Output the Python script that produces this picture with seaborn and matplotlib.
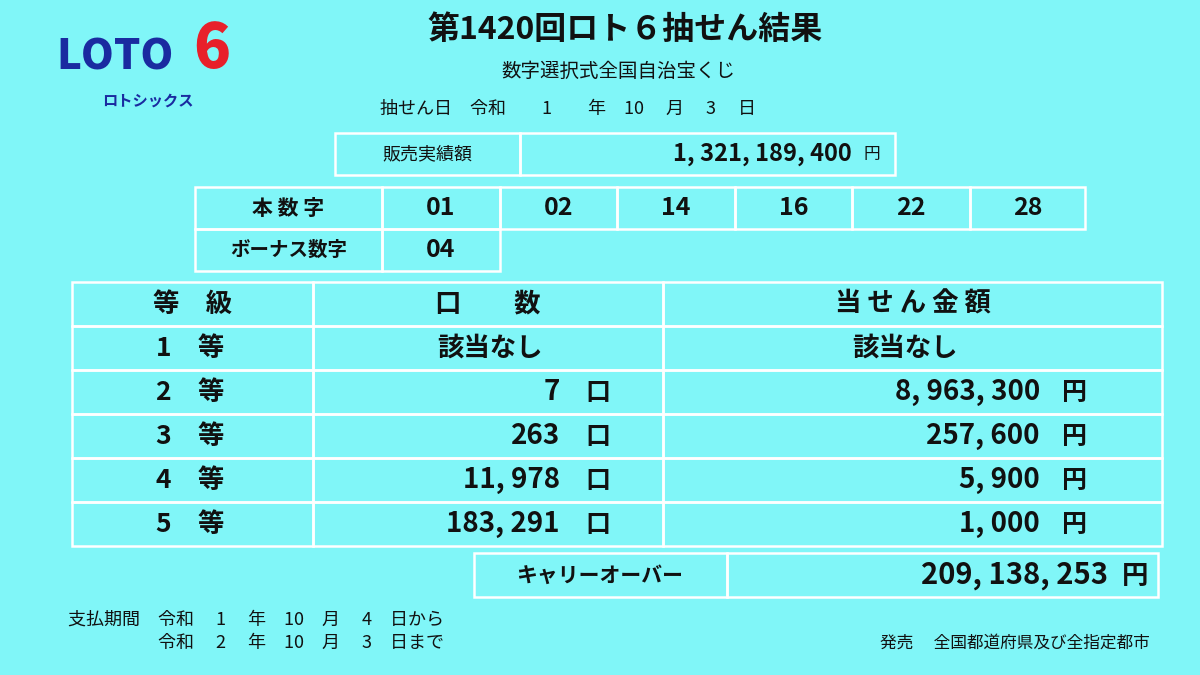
import matplotlib
matplotlib.use("Agg")
import matplotlib.pyplot as plt
import seaborn as sns
from matplotlib.patches import Rectangle

sns.set_theme(style="white")
FONT = "Noto Sans CJK JP"

title = "第1420回ロト６抽せん結果"
subtitle = "数字選択式全国自治宝くじ"
draw_date = "抽せん日　令和　　1　　年　10　 月　 3　 日"
sales_label = "販売実績額"
sales_value = "1, 321, 189, 400"
main_numbers = ["01", "02", "14", "16", "22", "28"]
bonus_number = "04"
grades = ["1　等", "2　等", "3　等", "4　等", "5　等"]
winners = ["該当なし", "7", "263", "11, 978", "183, 291"]
prizes = ["該当なし", "8, 963, 300", "257, 600", "5, 900", "1, 000"]
headers = ["等　級", "口　　数", "当 せ ん 金 額"]
carry_label = "キャリーオーバー"
carry_value = "209, 138, 253"
pay_lines = ["支払期間　令和　 1　 年　10　月　 4　日から", "　　　　　令和　 2　 年　10　月　 3　日まで"]
seller = "発売　 全国都道府県及び全指定都市"

BG = "#80F6F8"
LC = "white"
TC = "#111111"

fig = plt.figure(figsize=(12, 6.75), dpi=100, facecolor=BG)
ax = fig.add_axes([0, 0, 1, 1])
ax.set_xlim(0, 1200); ax.set_ylim(675, 0); ax.axis("off")
ax.set_facecolor(BG)

def t(x, y, s, size=18, ha="center", weight="bold", color=TC, **kw):
    ax.text(x, y, s, fontsize=size, ha=ha, va="center", fontfamily=FONT,
            fontweight=weight, color=color, **kw)

def box(x0, y0, x1, y1):
    ax.add_patch(Rectangle((x0, y0), x1 - x0, y1 - y0, fill=False, ec=LC, lw=1.8))

# logo
t(115, 58, "LOTO", size=30, color="#1A2BA0", style="italic", weight="heavy")
t(212, 50, "6", size=44, color="#E8202A", weight="heavy")
t(148, 101, "ロトシックス", size=11, color="#1A2BA0")

t(625, 30, title, size=23)
t(618, 71, subtitle, size=14, weight="normal")
t(380, 109, draw_date, size=13, ha="left", weight="normal")

# sales
box(335, 133, 520, 175); box(520, 133, 895, 175)
t(427, 154, sales_label, size=13, weight="normal")
t(852, 154, sales_value, size=17, ha="right")
t(872, 155, "円", size=12, weight="normal")

# numbers
cols = [195, 382, 500, 617, 735, 852, 970, 1085]
box(cols[0], 187, cols[1], 229)
t((cols[0] + cols[1]) / 2, 208, "本 数 字", size=15)
for i, n in enumerate(main_numbers):
    box(cols[i + 1], 187, cols[i + 2], 229)
    t((cols[i + 1] + cols[i + 2]) / 2, 208, n, size=18)
box(cols[0], 229, cols[1], 271); box(cols[1], 229, cols[2], 271)
t((cols[0] + cols[1]) / 2, 250, "ボーナス数字", size=14)
t((cols[1] + cols[2]) / 2, 250, bonus_number, size=18)

# main table
xs = [72, 313, 663, 1162]
ys = [282, 326, 370, 414, 458, 502, 546]
for r in range(6):
    for c in range(3):
        box(xs[c], ys[r], xs[c + 1], ys[r + 1])
for c, h in enumerate(headers):
    t((xs[c] + xs[c + 1]) / 2, 304, h, size=19)
for r in range(5):
    yc = (ys[r + 1] + ys[r + 2]) / 2
    t(190, yc, grades[r], size=19)
    if winners[r] == "該当なし":
        t(490, yc, winners[r], size=19)
        t(905, yc, prizes[r], size=19)
    else:
        t(560, yc, winners[r], size=20, ha="right")
        t(598, yc + 1, "口", size=18)
        t(1040, yc, prizes[r], size=20, ha="right")
        t(1075, yc + 1, "円", size=18)

# carry over
box(474, 553, 727, 597); box(727, 553, 1158, 597)
t(600, 575, carry_label, size=15)
t(1108, 575, carry_value, size=21, ha="right")
t(1135, 576, "円", size=19)

t(68, 620, pay_lines[0], size=13, ha="left", weight="normal")
t(68, 643, pay_lines[1], size=13, ha="left", weight="normal")
t(1150, 643, seller, size=12, ha="right", weight="normal")

fig.savefig("out.png", dpi=100, facecolor=BG)
